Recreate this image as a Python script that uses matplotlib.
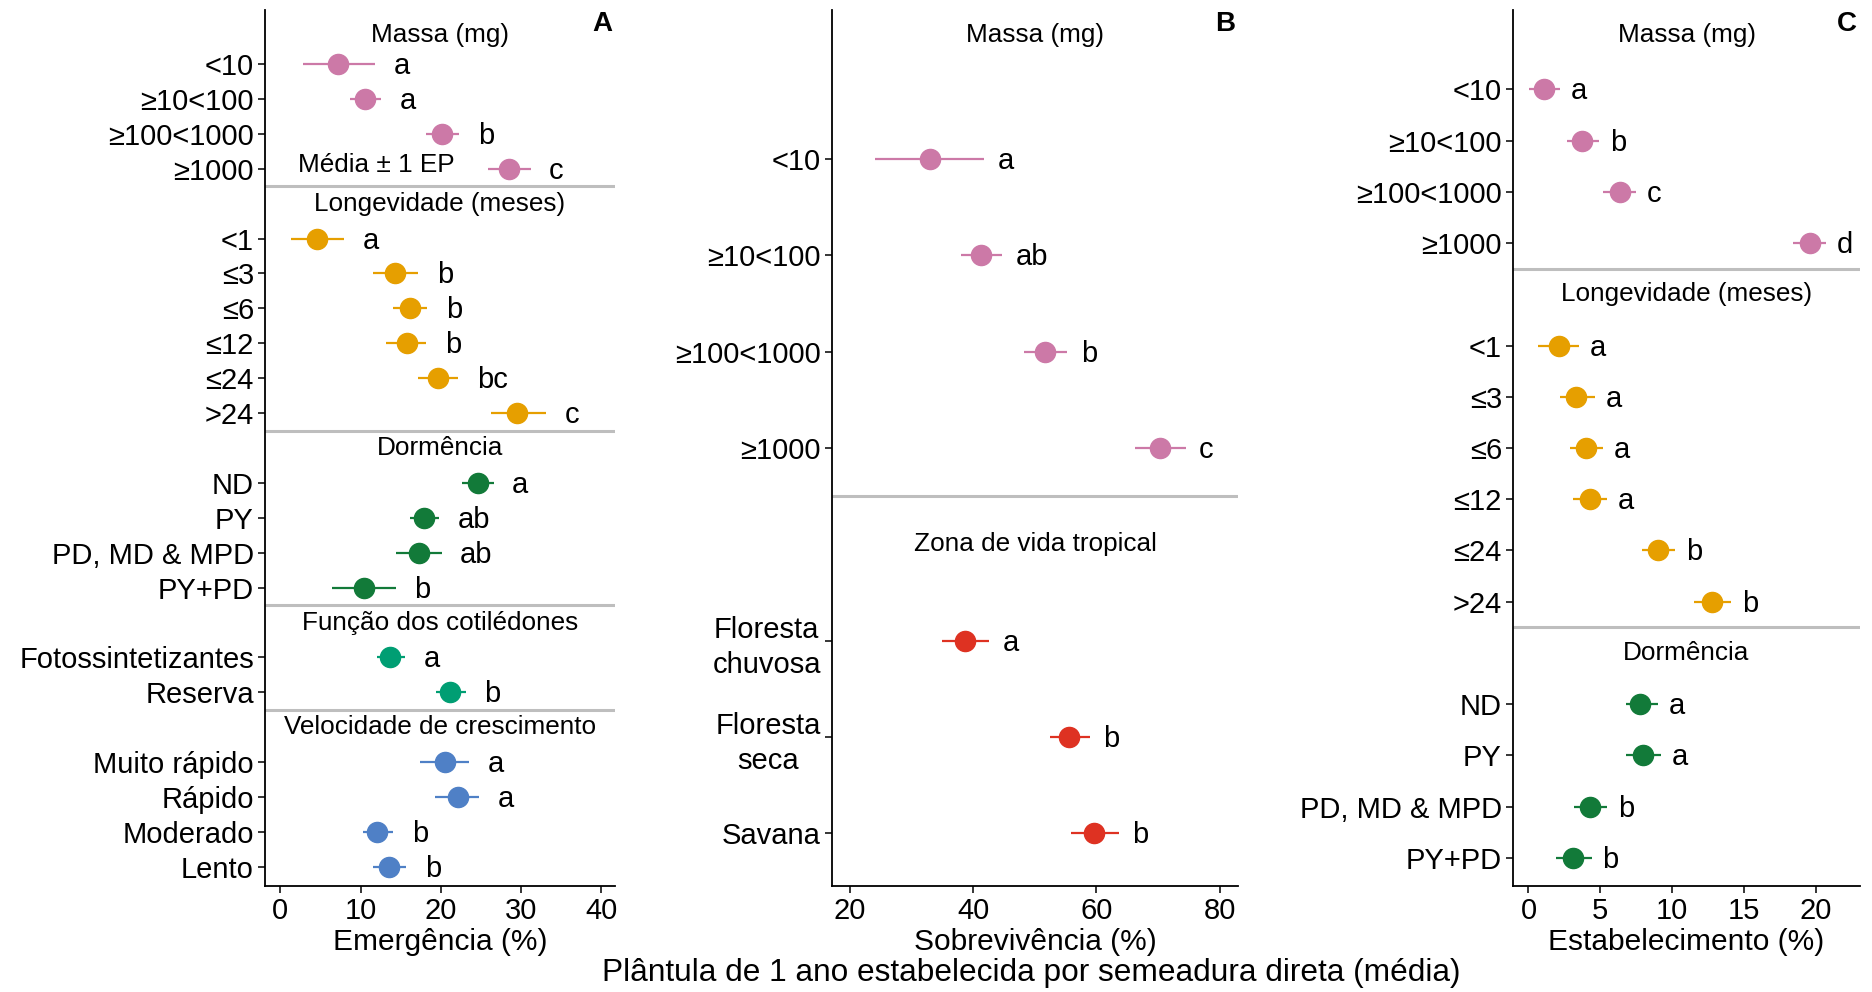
import matplotlib.pyplot as plt

plt.rcParams['font.family'] = ['Liberation Sans', 'DejaVu Sans']

PINK = '#CC79A7'
ORANGE = '#E69F00'
GREEN = '#127A39'
TEAL = '#009E73'
BLUE = '#4F80C6'
RED = '#DE3222'

# category labels
massa_lab = ['<10', '≥10<100', '≥100<1000', '≥1000']
longev_lab = ['<1', '≤3', '≤6', '≤12', '≤24', '>24']
dorm_lab = ['ND', 'PY', 'PD, MD & MPD', 'PY+PD']
func_lab = ['Fotossintetizantes', 'Reserva']
veloc_lab = ['Muito rápido', 'Rápido', 'Moderado', 'Lento']
zona_lab = ['Floresta\nchuvosa', 'Floresta\nseca', 'Savana']

# A - Emergência (%): media, limite inferior, limite superior, letras
a_massa_mean = [7.2, 10.6, 20.1, 28.5]
a_massa_lo = [2.8, 8.7, 18.1, 25.9]
a_massa_hi = [11.8, 12.6, 22.3, 31.2]
a_massa_let = ['a', 'a', 'b', 'c']

a_longev_mean = [4.6, 14.3, 16.2, 15.8, 19.7, 29.5]
a_longev_lo = [1.3, 11.5, 14.0, 13.2, 17.2, 26.2]
a_longev_hi = [8.0, 17.2, 18.3, 18.2, 22.2, 33.1]
a_longev_let = ['a', 'b', 'b', 'b', 'bc', 'c']

a_dorm_mean = [24.6, 17.9, 17.3, 10.4]
a_dorm_lo = [22.6, 16.2, 14.4, 6.5]
a_dorm_hi = [26.6, 19.8, 20.1, 14.4]
a_dorm_let = ['a', 'ab', 'ab', 'b']

a_func_mean = [13.7, 21.2]
a_func_lo = [12.0, 19.4]
a_func_hi = [15.6, 23.1]
a_func_let = ['a', 'b']

a_veloc_mean = [20.5, 22.1, 12.1, 13.5]
a_veloc_lo = [17.4, 19.3, 10.3, 11.5]
a_veloc_hi = [23.5, 24.8, 14.1, 15.7]
a_veloc_let = ['a', 'a', 'b', 'b']

# B - Sobrevivência (%)
b_massa_mean = [32.9, 41.3, 51.7, 70.3]
b_massa_lo = [24.0, 38.0, 48.2, 66.2]
b_massa_hi = [41.8, 44.7, 55.3, 74.5]
b_massa_let = ['a', 'ab', 'b', 'c']

b_zona_mean = [38.6, 55.6, 59.6]
b_zona_lo = [34.9, 52.4, 55.8]
b_zona_hi = [42.6, 58.9, 63.6]
b_zona_let = ['a', 'b', 'b']

# C - Estabelecimento (%)
c_massa_mean = [1.1, 3.76, 6.35, 19.6]
c_massa_lo = [0.05, 2.7, 5.2, 18.4]
c_massa_hi = [2.2, 4.9, 7.5, 20.7]
c_massa_let = ['a', 'b', 'c', 'd']

c_longev_mean = [2.1, 3.3, 4.0, 4.3, 9.05, 12.8]
c_longev_lo = [0.65, 2.2, 2.9, 3.1, 7.9, 11.5]
c_longev_hi = [3.5, 4.6, 5.2, 5.5, 10.2, 14.1]
c_longev_let = ['a', 'a', 'a', 'a', 'b', 'b']

c_dorm_mean = [7.8, 8.0, 4.3, 3.1]
c_dorm_lo = [6.8, 6.8, 3.2, 1.9]
c_dorm_hi = [9.0, 9.2, 5.5, 4.4]
c_dorm_let = ['a', 'a', 'b', 'b']


def draw_panel(ax, groups, xlim, xticks, xlabel, tag, nudge):
    cursor = 0
    yt, yl = [], []
    tr = ax.get_yaxis_transform()
    for i, (head, labs, mean, lo, hi, lets, col) in enumerate(groups):
        n = len(labs)
        ys = [cursor + 1.5 + k for k in range(n)]
        for y, m, l, h, t in zip(ys, mean, lo, hi, lets):
            ax.plot([l, h], [y, y], color=col, lw=1.6, solid_capstyle='butt', zorder=2)
            ax.plot(m, y, 'o', color=col, ms=14.5, mec=col, zorder=3)
            ax.annotate(t, xy=(h + nudge, y), xytext=(0, -2), textcoords='offset pixels',
                        fontsize=21, va='center', ha='left')
        if i == 0:
            ax.annotate(head, xy=(0.5, 1), xycoords='axes fraction', xytext=(0, -25),
                        textcoords='offset pixels', ha='center', va='center', fontsize=18.8)
        else:
            ax.text(0.5, cursor + 0.5, head, transform=tr, ha='center', va='center', fontsize=18.8)
        cursor += n + 1
        if i < len(groups) - 1:
            ax.axhline(cursor, color='#BEBEBE', lw=2.2, zorder=1)
        yt += ys
        yl += labs
    ax.set_ylim(cursor + 0.05, -0.05)
    ax.set_yticks(yt)
    ax.set_yticklabels(yl, multialignment='center', linespacing=1.35)
    ax.set_xlim(*xlim)
    ax.set_xticks(xticks)
    ax.set_xlabel(xlabel, fontsize=21.5, labelpad=2)
    ax.tick_params(labelsize=21, length=5, width=1.1, pad=3)
    for s in ['top', 'right']:
        ax.spines[s].set_visible(False)
    for s in ['left', 'bottom']:
        ax.spines[s].set_linewidth(1.3)
    ax.annotate(tag, xy=(1, 1), xycoords='axes fraction', xytext=(-3, -14),
                textcoords='offset pixels', ha='right', va='center', fontsize=20, fontweight='bold')


fig = plt.figure(figsize=(18.72, 9.92), dpi=100)
W, H = 1872, 992
axA = fig.add_axes([265 / W, 1 - 886 / H, 350 / W, 876 / H])
axB = fig.add_axes([832 / W, 1 - 886 / H, 406 / W, 876 / H])
axC = fig.add_axes([1513 / W, 1 - 886 / H, 347 / W, 876 / H])

draw_panel(axA, [
    ('Massa (mg)', massa_lab, a_massa_mean, a_massa_lo, a_massa_hi, a_massa_let, PINK),
    ('Longevidade (meses)', longev_lab, a_longev_mean, a_longev_lo, a_longev_hi, a_longev_let, ORANGE),
    ('Dormência', dorm_lab, a_dorm_mean, a_dorm_lo, a_dorm_hi, a_dorm_let, GREEN),
    ('Função dos cotilédones', func_lab, a_func_mean, a_func_lo, a_func_hi, a_func_let, TEAL),
    ('Velocidade de crescimento', veloc_lab, a_veloc_mean, a_veloc_lo, a_veloc_hi, a_veloc_let, BLUE),
], (-1.9, 41.7), [0, 10, 20, 30, 40], 'Emergência (%)', 'A', 2.3)
axA.text(12.0, 4.4, 'Média ± 1 EP', ha='center', va='center', fontsize=18.8)

draw_panel(axB, [
    ('Massa (mg)', massa_lab, b_massa_mean, b_massa_lo, b_massa_hi, b_massa_let, PINK),
    ('Zona de vida tropical', zona_lab, b_zona_mean, b_zona_lo, b_zona_hi, b_zona_let, RED),
], (17.05, 83.0), [20, 40, 60, 80], 'Sobrevivência (%)', 'B', 2.2)

draw_panel(axC, [
    ('Massa (mg)', massa_lab, c_massa_mean, c_massa_lo, c_massa_hi, c_massa_let, PINK),
    ('Longevidade (meses)', longev_lab, c_longev_mean, c_longev_lo, c_longev_hi, c_longev_let, ORANGE),
    ('Dormência', dorm_lab, c_dorm_mean, c_dorm_lo, c_dorm_hi, c_dorm_let, GREEN),
], (-1.08, 23.1), [0, 5, 10, 15, 20], 'Estabelecimento (%)', 'C', 0.75)

fig.text(0.551, 0.019, 'Plântula de 1 ano estabelecida por semeadura direta (média)',
         ha='center', va='center', fontsize=22.8)

fig.savefig('out.png', dpi=100, facecolor='white')
